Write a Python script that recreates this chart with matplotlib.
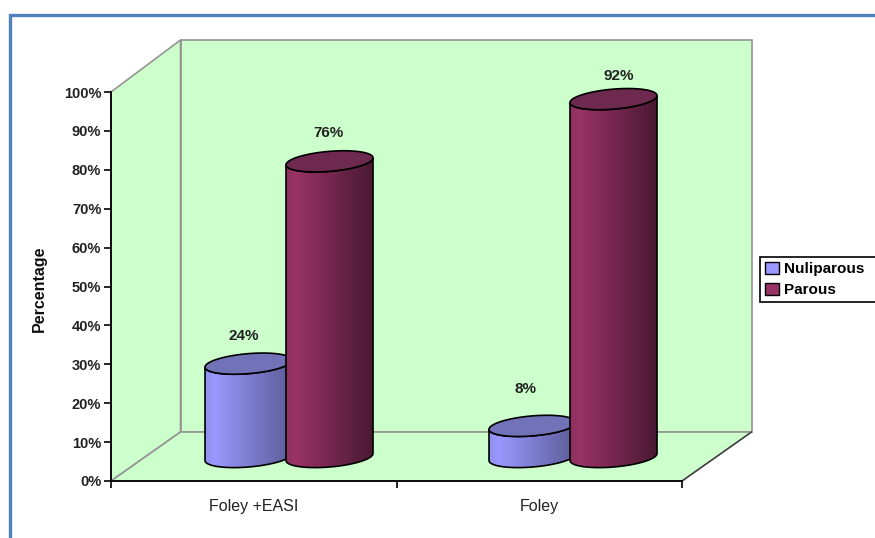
import numpy as np
import matplotlib
matplotlib.use('Agg')
import matplotlib.pyplot as plt
from matplotlib.colors import LinearSegmentedColormap
from matplotlib.lines import Line2D
from matplotlib.patches import Patch, Polygon
from matplotlib.ticker import PercentFormatter

plt.rcParams['font.family'] = ['Liberation Sans', 'DejaVu Sans']

groups = ['Foley +EASI', 'Foley']
series_names = ['Nuliparous', 'Parous']
nuliparous = [24, 8]
parous = [76, 92]

W, H = 875, 538
fig = plt.figure(figsize=(W / 100, H / 100), dpi=100)
ax = fig.add_axes([111 / W, (H - 481) / H, 571 / W, 389 / H])
ax.set_xlim(0, 2)
ax.set_ylim(0, 100)

px_x = 2 / 571
px_y = 100 / 389
depth_x = 69.5 * px_x
depth_y = 49 * px_y
top_y = 100 + 52 * px_y

wall = '#CCFFCC'
edge = '#949494'

# back wall, side wall and floor of the 3d box
back = [(depth_x, depth_y), (2 + depth_x, depth_y), (2 + depth_x, top_y), (depth_x, top_y)]
side = [(0, 0), (depth_x, depth_y), (depth_x, top_y), (0, 100)]
floor = [(0, 0), (2, 0), (2 + depth_x, depth_y), (depth_x, depth_y)]
for pts in (back, side, floor):
    ax.add_patch(Polygon(pts, closed=True, fc=wall, ec=edge, lw=1.2, clip_on=False, zorder=1))
ax.plot([2, 2 + depth_x], [0, depth_y], color='#3A3A3A', lw=1.0, clip_on=False, zorder=1.5)


def cylinder(center, value, colors, cap, z):
    half = 43.5 * px_x
    b = 10 * px_y
    s = 3.5 * px_y
    base = 24 * px_y
    top = base + value
    t = np.linspace(np.pi, 2 * np.pi, 80)
    low_x = center + half * np.cos(t)
    low_y = b * np.sin(t) + s * np.cos(t)
    outline = np.r_[np.c_[low_x, low_y + base], np.c_[low_x[::-1], low_y[::-1] + top]]
    body = Polygon(outline, closed=True, fc='none', ec='black', lw=1.2, clip_on=False, zorder=z + 0.2)
    ax.add_patch(body)
    # shading runs from a bright band near the left edge to a dark right edge
    cmap = LinearSegmentedColormap.from_list('shade', list(zip((0, 0.1, 1), colors)))
    img = ax.imshow(np.linspace(0, 1, 128).reshape(1, -1), cmap=cmap, aspect='auto',
                    extent=(center - half, center + half, base - b - s, top + b + s),
                    interpolation='bilinear', zorder=z, clip_on=True)
    img.set_clip_path(body)
    t = np.linspace(0, 2 * np.pi, 160)
    ax.add_patch(Polygon(np.c_[center + half * np.cos(t), top + b * np.sin(t) + s * np.cos(t)],
                         closed=True, fc=cap, ec='black', lw=1.2, clip_on=False, zorder=z + 0.3))
    return top


blue_shade = ['#8F8FEE', '#9999FF', '#5C5C98']
red_shade = ['#8F3060', '#993366', '#4A1932']
blue_x = [(248.5 - 111) * px_x, (532.5 - 111) * px_x]
red_x = [(329.5 - 111) * px_x, (613.5 - 111) * px_x]
blue_tops = [cylinder(c, v, blue_shade, '#7272B8', 3) for c, v in zip(blue_x, nuliparous)]
red_tops = [cylinder(c, v, red_shade, '#6E2A4E', 5) for c, v in zip(red_x, parous)]
ax.set_xlim(0, 2)
ax.set_ylim(0, 100)
ax.set_aspect('auto')

# value labels above the cylinder caps
blue_off = [(-5, 28), (-7, 37)]
red_off = [(-1, 28), (5, 23)]
for xs, tops, vals, offs in ((blue_x, blue_tops, nuliparous, blue_off), (red_x, red_tops, parous, red_off)):
    for x, top, v, off in zip(xs, tops, vals, offs):
        ax.annotate(f'{v}%', (x, top), xytext=off, textcoords='offset pixels', ha='center', va='center',
                    fontsize=11, fontweight='bold', color='#222222', zorder=8, annotation_clip=False)

ax.patch.set_visible(False)
for name in ('top', 'right'):
    ax.spines[name].set_visible(False)
for name in ('left', 'bottom'):
    ax.spines[name].set_linewidth(1.3)
    ax.spines[name].set_zorder(7)

ax.set_yticks(np.arange(0, 101, 10))
ax.yaxis.set_major_formatter(PercentFormatter(100, decimals=0))
ax.set_xticks([0, 1, 2])
ax.set_xticklabels([])
ax.set_xticks([0.5, 1.5], minor=True)
ax.set_xticklabels(groups, minor=True, fontsize=11.5, color='#222222')
ax.tick_params(axis='x', which='major', length=5, width=1.2)
ax.tick_params(axis='x', which='minor', length=0, pad=13)
ax.tick_params(axis='y', length=5, width=1.2, pad=2)
for lab in ax.get_yticklabels():
    lab.set_fontweight('bold')
    lab.set_fontsize(10.5)
    lab.set_color('#222222')

fig.text(39 / W, 1 - 289 / H, 'Percentage', rotation=90, ha='center', va='center',
         fontsize=11.5, fontweight='bold', color='#111111')

handles = [Patch(fc='#9999FF', ec='black', lw=1.0), Patch(fc='#993366', ec='black', lw=1.0)]
leg = fig.legend(handles, series_names, loc='lower left',
                 bbox_to_anchor=(760 / W, 1 - 302 / H, 130 / W, 47 / H), mode='expand',
                 fancybox=False, framealpha=1, edgecolor='black',
                 prop={'weight': 'bold', 'size': 11}, borderaxespad=0, borderpad=0.3,
                 handlelength=0.95, handleheight=0.85, handletextpad=0.3, labelspacing=0.45,
                 alignment='left')
leg.get_frame().set_linewidth(1.2)

# blue frame around the figure, cut off at the right and bottom
fig.add_artist(Line2D([9.5 / W, 9.5 / W, 1], [0, 1 - 14.5 / H, 1 - 14.5 / H], color='#4F81BD', lw=2.4,
                      solid_joinstyle='miter'))

fig.savefig('out.png', dpi=100)
